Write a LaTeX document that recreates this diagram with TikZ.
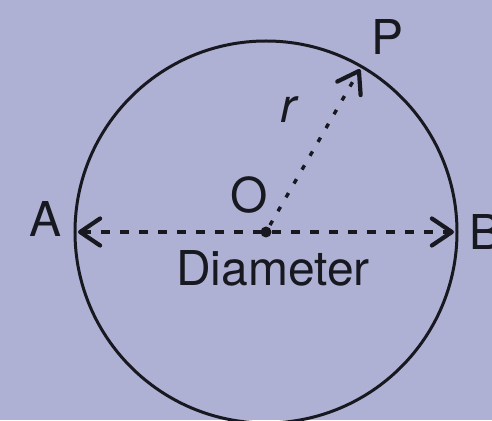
\documentclass[tikz,border=0pt]{standalone}
\usepackage{fontspec}
\setmainfont{TeX Gyre Heros}
\usepackage{tikz}
\usetikzlibrary{arrows.meta,calc,positioning}
\definecolor{paper}{RGB}{174,177,211}
\definecolor{ink}{RGB}{24,24,32}
\tikzset{
  barb/.tip={Straight Barb[length=20pt,width=27pt,line width=4.2pt,round]},
  rim/.style={draw=ink,line width=3pt},
  diam/.style={draw=ink,line width=3.4pt,dash pattern=on 9pt off 10pt,barb-barb},
  rad/.style={draw=ink,line width=3.4pt,dash pattern=on 5pt off 11pt,-barb},
  lbl/.style={text=ink,anchor=base,inner sep=0pt,font=\fontsize{48}{58}\selectfont}
}
\begin{document}
\begin{tikzpicture}
\fill[paper] (-266pt,-188pt) rectangle (226pt,232pt);
\useasboundingbox (-266pt,-188pt) rectangle (226pt,232pt);
\coordinate (O) at (0,0);
\coordinate (A) at (180:188pt);
\coordinate (B) at (0:188pt);
\coordinate (P) at (60:188pt);

\draw[rim] (O) circle[radius=191pt];
\draw[diam] (A) -- (B);
\draw[rad] ($(O)!8pt!(P)$) -- (P);
\fill[ink] (O) circle[radius=5.5pt];

\node[lbl] (lA) at (-220pt,-5pt) {A};
\node[lbl] (lB) at (220pt,-17pt) {B};
\node[lbl] (lP) at (122pt,177pt) {P};
\node[lbl] (lO) at (-17pt,19pt) {O};
\node[lbl] (lr) at (22pt,109pt) {\itshape r};
\node[lbl] (ldiam) at (7pt,-53pt) {Diameter};
\end{tikzpicture}
\end{document}
